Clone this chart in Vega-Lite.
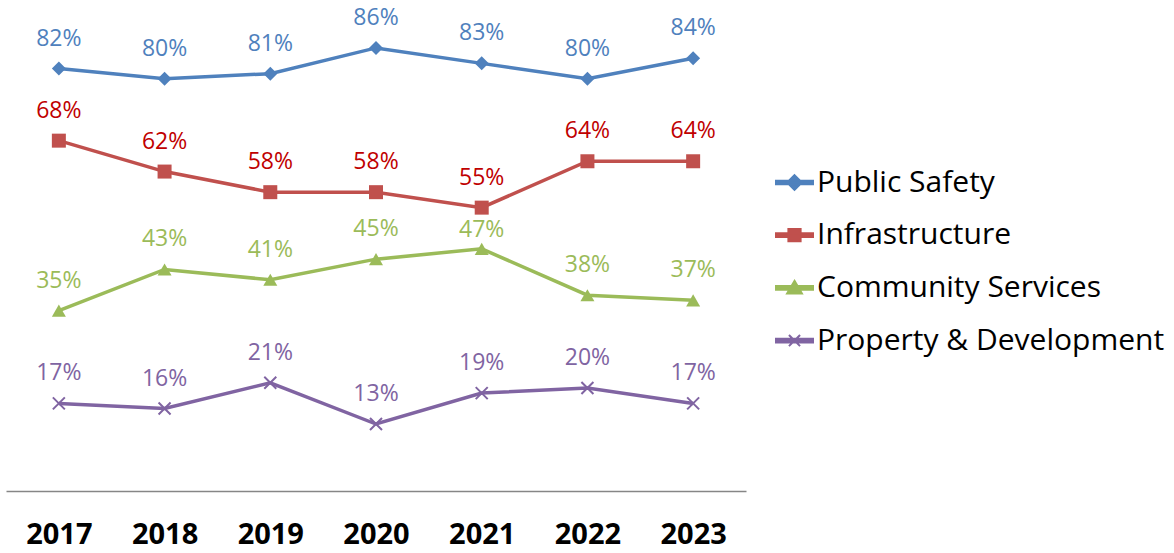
{
  "$schema": "https://vega.github.io/schema/vega-lite/v6.json",
  "width": 740,
  "height": 491,
  "padding": {"left": 6, "top": 0, "right": 0, "bottom": 8},
  "background": "white",
  "config": {"view": {"stroke": null}},
  "data": {"values": [
    {"year": "2017", "series": "Public Safety", "value": 0.82},
    {"year": "2018", "series": "Public Safety", "value": 0.80},
    {"year": "2019", "series": "Public Safety", "value": 0.81},
    {"year": "2020", "series": "Public Safety", "value": 0.86},
    {"year": "2021", "series": "Public Safety", "value": 0.83},
    {"year": "2022", "series": "Public Safety", "value": 0.80},
    {"year": "2023", "series": "Public Safety", "value": 0.84},
    {"year": "2017", "series": "Infrastructure", "value": 0.68},
    {"year": "2018", "series": "Infrastructure", "value": 0.62},
    {"year": "2019", "series": "Infrastructure", "value": 0.58},
    {"year": "2020", "series": "Infrastructure", "value": 0.58},
    {"year": "2021", "series": "Infrastructure", "value": 0.55},
    {"year": "2022", "series": "Infrastructure", "value": 0.64},
    {"year": "2023", "series": "Infrastructure", "value": 0.64},
    {"year": "2017", "series": "Community Services", "value": 0.35},
    {"year": "2018", "series": "Community Services", "value": 0.43},
    {"year": "2019", "series": "Community Services", "value": 0.41},
    {"year": "2020", "series": "Community Services", "value": 0.45},
    {"year": "2021", "series": "Community Services", "value": 0.47},
    {"year": "2022", "series": "Community Services", "value": 0.38},
    {"year": "2023", "series": "Community Services", "value": 0.37},
    {"year": "2017", "series": "Property & Development", "value": 0.17},
    {"year": "2018", "series": "Property & Development", "value": 0.16},
    {"year": "2019", "series": "Property & Development", "value": 0.21},
    {"year": "2020", "series": "Property & Development", "value": 0.13},
    {"year": "2021", "series": "Property & Development", "value": 0.19},
    {"year": "2022", "series": "Property & Development", "value": 0.20},
    {"year": "2023", "series": "Property & Development", "value": 0.17}
  ]},
  "encoding": {
    "x": {
      "field": "year", "type": "ordinal",
      "scale": {"type": "point", "padding": 0.5},
      "axis": {
        "title": null, "ticks": false, "tickSize": 0, "labelAngle": 0,
        "labelFont": "Open Sans", "labelFontWeight": "bold", "labelFontSize": 29,
        "labelColor": "#000000", "labelBaseline": "middle", "labelPadding": 43,
        "domainColor": "#868686", "domainWidth": 1.5, "grid": false
      }
    },
    "y": {
      "field": "value", "type": "quantitative",
      "scale": {"domain": [0, 0.953], "nice": false, "zero": true},
      "axis": null
    }
  },
  "layer": [
    {
      "mark": {"type": "line", "strokeWidth": 3.5},
      "encoding": {
        "color": {
          "field": "series", "type": "nominal",
          "scale": {
            "domain": ["Public Safety", "Infrastructure", "Community Services", "Property & Development"],
            "range": ["#4F81BD", "#C0504D", "#9BBB59", "#8064A2"]
          },
          "legend": {
            "title": null, "orient": "none", "legendX": 769, "legendY": 163,
            "labelFont": "Open Sans", "labelFontSize": 30, "labelColor": "#000000",
            "labelLimit": 500, "labelOffset": 3, "symbolSize": 1369, "rowPadding": 17.7,
            "symbolStrokeWidth": 2,
            "encode": {
              "symbols": {
                "update": {
                  "shape": {"signal": "datum.value === 'Public Safety' ? 'M-1,-0.1H1V0.1H-1Z M0,-0.4L0.4,0L0,0.4L-0.4,0Z' : datum.value === 'Infrastructure' ? 'M-1,-0.1H1V0.1H-1Z M-0.33,-0.33H0.33V0.33H-0.33Z' : datum.value === 'Community Services' ? 'M-1,-0.1H1V0.1H-1Z M0,-0.38L0.4,0.3H-0.4Z' : 'M-1,-0.1H1V0.1H-1Z M-0.3,-0.3L0.3,0.3M-0.3,0.3L0.3,-0.3'"},
                  "fill": {"signal": "datum.value === 'Public Safety' ? '#4F81BD' : datum.value === 'Infrastructure' ? '#C0504D' : datum.value === 'Community Services' ? '#9BBB59' : '#8064A2'"},
                  "stroke": {"signal": "datum.value === 'Public Safety' ? '#4F81BD' : datum.value === 'Infrastructure' ? '#C0504D' : datum.value === 'Community Services' ? '#9BBB59' : '#8064A2'"},
                  "strokeWidth": {"value": 2},
                  "opacity": {"value": 1}
                }
              }
            }
          }
        }
      }
    },
    {
      "transform": [{"filter": "datum.series !== 'Property & Development'"}],
      "mark": {"type": "point", "filled": true, "opacity": 1},
      "encoding": {
        "color": {"field": "series", "type": "nominal", "legend": null},
        "shape": {
          "field": "series", "type": "nominal",
          "scale": {
            "domain": ["Public Safety", "Infrastructure", "Community Services"],
            "range": ["diamond", "square", "triangle-up"]
          },
          "legend": null
        },
        "size": {
          "field": "series", "type": "nominal",
          "scale": {
            "domain": ["Public Safety", "Infrastructure", "Community Services"],
            "range": [196, 196, 230]
          },
          "legend": null
        }
      }
    },
    {
      "transform": [{"filter": "datum.series === 'Property & Development'"}],
      "mark": {"type": "point", "filled": false, "shape": "M-1,-1L1,1M-1,1L1,-1", "size": 144, "strokeWidth": 2, "opacity": 1},
      "encoding": {
        "color": {"field": "series", "type": "nominal", "legend": null}
      }
    },
    {
      "transform": [{"filter": "!(datum.series === 'Community Services' && datum.year === '2021')"}],
      "mark": {"type": "text", "dy": -30, "font": "Open Sans", "fontSize": 23, "baseline": "middle", "align": "center"},
      "encoding": {
        "text": {"field": "value", "type": "quantitative", "format": ".0%"},
        "fill": {
          "field": "series", "type": "nominal",
          "scale": {
            "domain": ["Public Safety", "Infrastructure", "Community Services", "Property & Development"],
            "range": ["#4F81BD", "#C00000", "#9BBB59", "#8064A2"]
          },
          "legend": null
        }
      }
    },
    {
      "transform": [{"filter": "datum.series === 'Community Services' && datum.year === '2021'"}],
      "mark": {"type": "text", "dy": -19, "font": "Open Sans", "fontSize": 23, "baseline": "middle", "align": "center"},
      "encoding": {
        "text": {"field": "value", "type": "quantitative", "format": ".0%"},
        "fill": {"field": "series", "type": "nominal", "legend": null}
      }
    }
  ]
}
